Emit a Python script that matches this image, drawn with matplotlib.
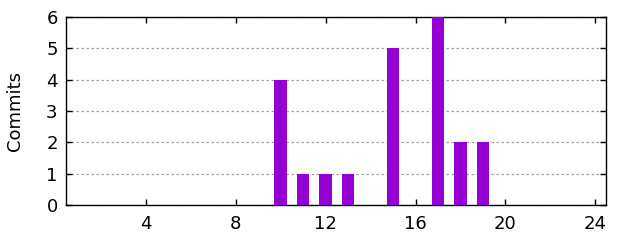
import matplotlib
matplotlib.use('Agg')
import matplotlib.pyplot as plt

# commits per hour of day
hours = [10, 11, 12, 13, 15, 17, 18, 19]
commits = [4, 1, 1, 1, 5, 6, 2, 2]
xticks = [4, 8, 12, 16, 20, 24]

fig = plt.figure(figsize=(6.4, 2.4), dpi=100)
ax = fig.add_axes([66/640, 35/240, 540/640, 188/240])

ax.bar(hours, commits, width=0.55, color='#9400d3', zorder=3)

ax.set_xlim(0.46, 24.47)
ax.set_ylim(0, 6)
ax.set_xticks(xticks)
ax.set_yticks(range(0, 7))
ax.tick_params(direction='in', top=True, right=True, labelsize=13, length=4, width=1)
ax.tick_params(axis='x', pad=7)
ax.tick_params(axis='y', pad=6)
ax.yaxis.grid(True, linestyle=(0, (2, 2)), color='#a0a0a0', linewidth=0.9)
for s in ax.spines.values():
    s.set_linewidth(1)
ax.set_ylabel('Commits', fontsize=13, labelpad=16)

fig.savefig('out.png')
